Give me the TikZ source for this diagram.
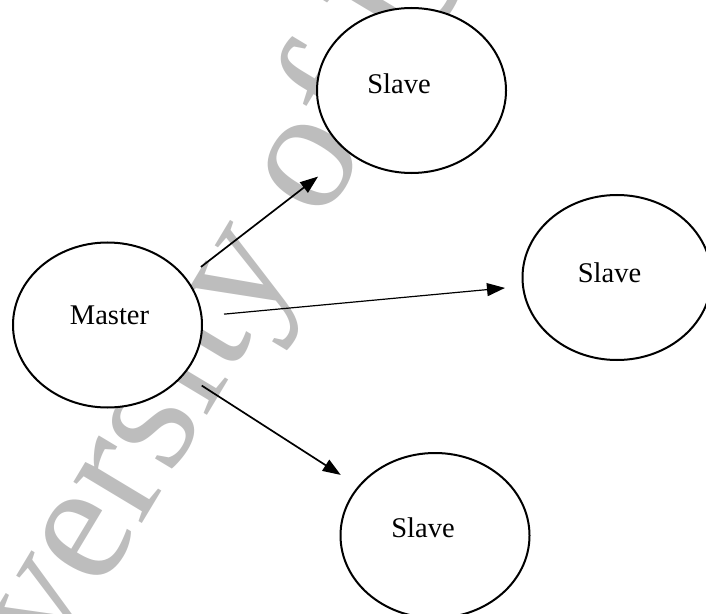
\documentclass[tikz,border=0pt]{standalone}
\usepackage{fontspec}
\setmainfont{Liberation Serif}
\usetikzlibrary{shapes.geometric,arrows.meta}
\definecolor{markgray}{gray}{0.74}
\tikzset{
  unit/.style={ellipse, draw, line width=2bp, fill=white,
    minimum width=189bp, minimum height=165bp, inner sep=0pt},
  lbl/.style={font=\fontsize{28.5bp}{34bp}\selectfont, inner sep=0pt, anchor=base},
  link/.style={-{Triangle[length=18bp,width=13bp]}, line width=1.7bp},
}
\begin{document}
\begin{tikzpicture}[x=1bp,y=-1bp]
\useasboundingbox (0,0) rectangle (706,614);
\begin{scope}
  \clip (0,0) rectangle (706,614);
  % background watermark
  \node[markgray, rotate=59, anchor=base west, inner sep=0pt,
        font=\fontsize{174bp}{174bp}\selectfont] (mark) at (55.6,667) {versity of U};
  % master and slave units
  \node[unit] (m)  at (107.5,325) {};
  \node[unit] (s1) at (411.5,90.5) {};
  \node[unit] (s2) at (617,277.5) {};
  \node[unit] (s3) at (435,535.5) {};
  % labels
  \node[lbl] (mt)  at ([shift={(2,-1)}]m)       {Master};
  \node[lbl] (s1t) at ([shift={(-12.5,3.5)}]s1) {Slave};
  \node[lbl] (s2t) at ([shift={(-7.5,4.5)}]s2)  {Slave};
  \node[lbl] (s3t) at ([shift={(-12,1.5)}]s3)   {Slave};
  % connectors
  \draw[link, shorten <=118bp, shorten >=118bp]
    ([yshift=-14bp]m.center) -- ([yshift=-14bp]s1.center);
  \draw[link, line width=1.2bp, shorten <=117bp, shorten >=112.5bp]
    (m.center) -- (s2.center);
  \draw[link, shorten <=112bp, shorten >=112bp]
    (m.center) -- (s3.center);
\end{scope}
\end{tikzpicture}
\end{document}
